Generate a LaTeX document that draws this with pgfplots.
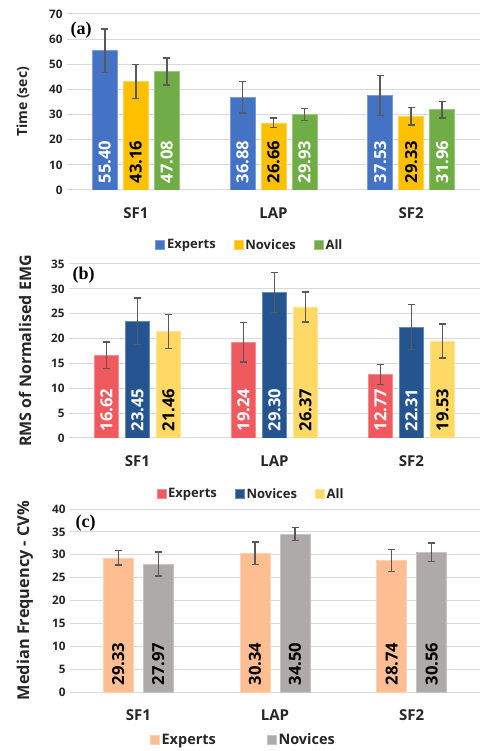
\documentclass[border=0pt]{standalone}
\usepackage{pgfplots}
\usepackage{pgfplotstable}
\pgfplotsset{compat=1.18}
\usepackage{fontspec}
\setmainfont{Open Sans}
\newfontfamily\timesf{Liberation Serif}

\definecolor{cA1}{HTML}{4472C4}
\definecolor{cA2}{HTML}{FFC000}
\definecolor{cA3}{HTML}{70AD47}
\definecolor{cB1}{HTML}{F05A5F}
\definecolor{cB2}{HTML}{255591}
\definecolor{cB3}{HTML}{FFD966}
\definecolor{cC1}{HTML}{FFBE91}
\definecolor{cC2}{HTML}{AEAAAA}
\definecolor{errc}{HTML}{595959}
\definecolor{gridc}{HTML}{D9D9D9}

% panel (a): Time (sec)
\pgfplotstableread{
x y err
0 55.40 8.6
1 36.88 6.2
2 37.53 8.0
}\aExp
\pgfplotstableread{
x y err
0 43.16 6.8
1 26.66 1.9
2 29.33 3.5
}\aNov
\pgfplotstableread{
x y err
0 47.08 5.4
1 29.93 2.4
2 31.96 3.3
}\aAll
% panel (b): RMS of normalised EMG (x10^-3)
\pgfplotstableread{
x y err
0 16.62 2.7
1 19.24 3.95
2 12.77 2.0
}\bExp
\pgfplotstableread{
x y err
0 23.45 4.7
1 29.30 4.0
2 22.31 4.5
}\bNov
\pgfplotstableread{
x y err
0 21.46 3.4
1 26.37 3.0
2 19.53 3.4
}\bAll
% panel (c): Median frequency CV%
\pgfplotstableread{
x y err
0 29.33 1.55
1 30.34 2.45
2 28.74 2.35
}\cExp
\pgfplotstableread{
x y err
0 27.97 2.6
1 34.50 1.4
2 30.56 2.05
}\cNov

\pgfplotsset{
  panel/.style={
    scale only axis,
    xmin=-0.5, xmax=2.5, ymin=0,
    xtick={0,1,2}, xticklabels={SF1,LAP,SF2},
    ybar, 
    axis line style={draw=none},
    major tick length=0pt,
    ymajorgrids, grid style={gridc, line width=1pt},
    /pgf/number format/assume math mode=true,
    yticklabel style={font=\bfseries\fontsize{11.7}{13}\selectfont, text=black!85, xshift=-1pt},
    xticklabel style={font=\bfseries\fontsize{15}{17}\selectfont, text=black!85, yshift=-14pt},
    every axis y label/.style={rotate=90, anchor=center, text=black!85},
    legend image code/.code={\fill[##1] (0pt,-4.5pt) rectangle (9pt,4.5pt);},
  },
  shiftleg/.style={
    legend image code/.code={\path (-33pt,0pt); \fill[##1] (0pt,-4.5pt) rectangle (9pt,4.5pt);},
  },
  eb/.style={
    error bars/y dir=both, error bars/y explicit,
    error bars/error bar style={errc, line width=1.4pt},
    error bars/error mark options={rotate=90, errc, mark size=3.5pt, line width=1.4pt},
  },
  lab/.style={draw=none, fill=none, forget plot, bar shift=#1,
    nodes near coords={\pgfmathprintnumber[fixed, fixed zerofill, precision=2]{\pgfplotspointmeta}},
    point meta=explicit,
  },
  labnode/.style={every node near coord/.append style={rotate=90, anchor=west, inner xsep=6.5pt, inner ysep=0pt,
      font=\bfseries\fontsize{16.6}{18}\selectfont, text=#1}},
}

\begin{document}
\begin{tikzpicture}
\useasboundingbox (0,0) rectangle (480pt,751pt);

% ---------------- (a)
\begin{axis}[panel, at={(67pt,561pt)}, anchor=south west,
  width=413pt, height=176pt, ymax=70, ytick={0,10,...,70},
  bar width=25pt,
  ylabel={Time (sec)},
  every axis y label/.append style={at={(axis description cs:-0.1065,0.5)}, font=\bfseries\fontsize{14}{16}\selectfont},
  legend style={draw=none, fill=none, font=\bfseries\fontsize{13}{15}\selectfont, text=black!85,
      legend columns=-1, anchor=center, at={(axis description cs:0.443,-0.3125)},
      /tikz/every even column/.style={column sep=16pt}},
]
\addplot[fill=cA1, draw=cA1!70!white, line width=0.6pt, bar shift=-31pt, eb] table[x=x, y=y, y error=err]{\aExp};
\addplot[fill=cA2, draw=cA2!70!white, line width=0.6pt, bar shift=0pt, eb] table[x=x, y=y, y error=err]{\aNov};
\addplot[fill=cA3, draw=cA3!70!white, line width=0.6pt, bar shift=31pt, eb] table[x=x, y=y, y error=err]{\aAll};
\legend{Experts, Novices, All}
\addplot[lab=-31pt, labnode=white] table[x=x, y expr=0, meta=y]{\aExp};
\addplot[lab=0pt, labnode=black] table[x=x, y expr=0, meta=y]{\aNov};
\addplot[lab=31pt, labnode=white] table[x=x, y expr=0, meta=y]{\aAll};
\node[anchor=west, font=\timesf\bfseries\fontsize{18}{20}\selectfont] at (axis description cs:0.0,0.91) {(a)};
\end{axis}

% ---------------- (b)
\begin{axis}[panel, at={(69pt,313pt)}, anchor=south west,
  width=411pt, height=174pt, ymax=35, ytick={0,5,...,35},
  bar width=24pt,
  ylabel={RMS of Normalised EMG},
  every axis y label/.append style={at={(axis description cs:-0.107,0.5)}, font=\bfseries\fontsize{16}{18}\selectfont},
  legend style={draw=none, fill=none, font=\bfseries\fontsize{13}{15}\selectfont, text=black!85,
      legend columns=-1, anchor=center, at={(axis description cs:0.443,-0.322)},
      /tikz/every even column/.style={column sep=16pt}},
]
\addplot[fill=cB1, draw=cB1!70!white, line width=0.6pt, bar shift=-31pt, eb] table[x=x, y=y, y error=err]{\bExp};
\addplot[fill=cB2, draw=cB2!70!white, line width=0.6pt, bar shift=0pt, eb] table[x=x, y=y, y error=err]{\bNov};
\addplot[fill=cB3, draw=cB3!70!white, line width=0.6pt, bar shift=31pt, eb] table[x=x, y=y, y error=err]{\bAll};
\legend{Experts, Novices, All}
\addplot[lab=-31pt, labnode=white] table[x=x, y expr=0, meta=y]{\bExp};
\addplot[lab=0pt, labnode=white] table[x=x, y expr=0, meta=y]{\bNov};
\addplot[lab=31pt, labnode=black] table[x=x, y expr=0, meta=y]{\bAll};
\node[anchor=west, font=\timesf\bfseries\fontsize{18}{20}\selectfont] at (axis description cs:0.0,0.937) {(b)};
\node[font=\bfseries\fontsize{12.5}{14}\selectfont, text=black!85] at (axis description cs:-0.051,-0.107) {(x10\textsuperscript{-3})};
\end{axis}

% ---------------- (c)
\begin{axis}[panel, at={(70pt,59pt)}, anchor=south west,
  width=410pt, height=183pt, ymax=40, ytick={0,5,...,40},
  bar width=30pt,
  ylabel={Median Frequency - CV\%},
  every axis y label/.append style={at={(axis description cs:-0.11,0.5)}, font=\bfseries\fontsize{16.3}{18}\selectfont},
  legend style={draw=none, fill=none, font=\bfseries\fontsize{14.5}{16}\selectfont, text=black!85,
      legend columns=-1, anchor=center, at={(axis description cs:0.423,-0.262)},
      /tikz/every even column/.style={column sep=16pt}},
]
\addplot[fill=cC1, draw=cC1!70!white, line width=0.6pt, bar shift=-20pt, eb] table[x=x, y=y, y error=err]{\cExp};
\addplot[fill=cC2, draw=cC2!70!white, line width=0.6pt, bar shift=20pt, eb, shiftleg] table[x=x, y=y, y error=err]{\cNov};
\legend{Experts, Novices}
\addplot[lab=-20pt, labnode=black] table[x=x, y expr=0, meta=y]{\cExp};
\addplot[lab=20pt, labnode=black] table[x=x, y expr=0, meta=y]{\cNov};
\node[anchor=west, font=\timesf\bfseries\fontsize{18}{20}\selectfont] at (axis description cs:0.005,0.925) {(c)};
\end{axis}
\end{tikzpicture}
\end{document}
